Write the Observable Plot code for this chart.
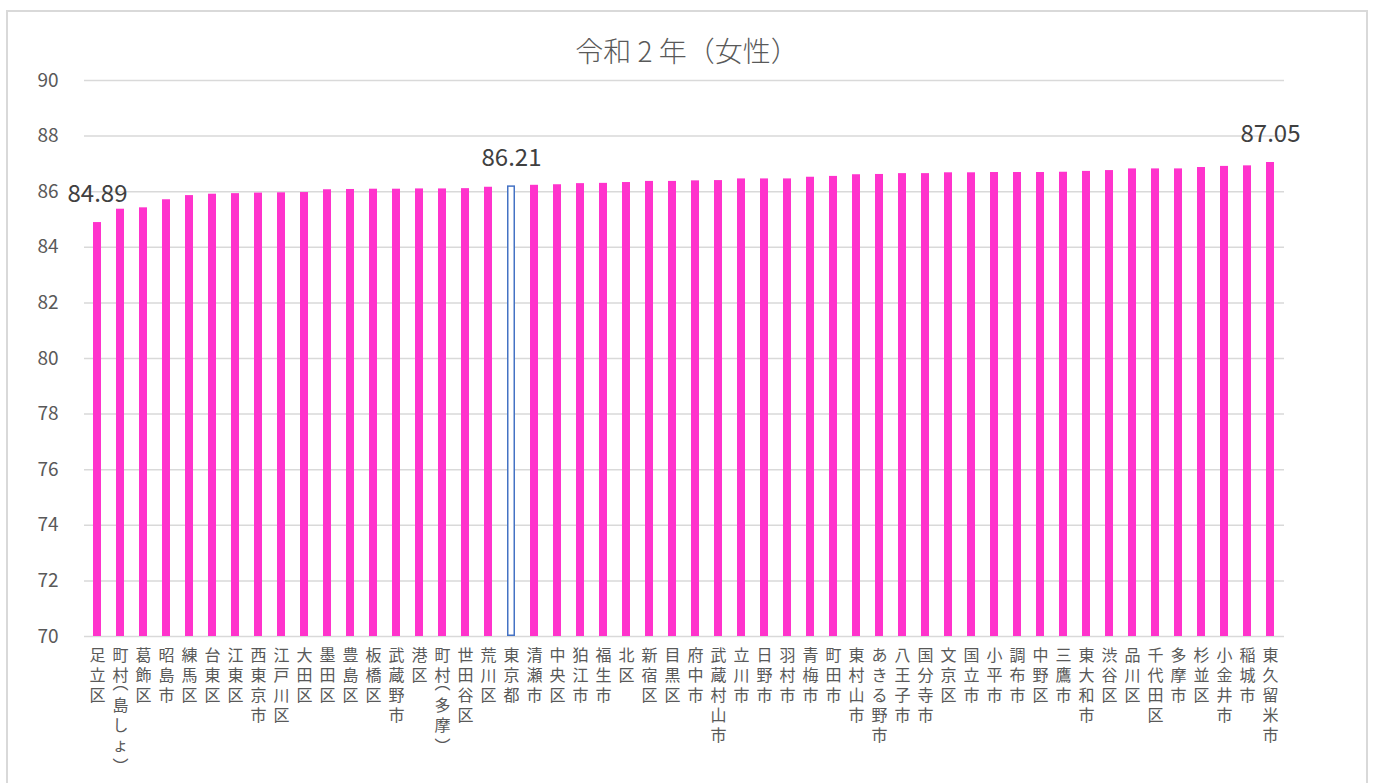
<!DOCTYPE html>
<html><head><meta charset="utf-8">
<script src="https://cdn.jsdelivr.net/npm/d3@7"></script>
<script src="https://cdn.jsdelivr.net/npm/@observablehq/plot@0.6"></script>
<style>
html,body{margin:0;padding:0;background:#fff;overflow:hidden;}
#wrap{position:relative;width:1374px;height:783px;}
#frame{position:absolute;left:6px;top:10px;width:1362px;height:800px;border:2px solid #d9d9d9;box-sizing:border-box;}
#title{position:absolute;left:0;width:1374px;top:31px;text-align:center;font-family:"Noto Sans CJK JP",sans-serif;font-size:28px;font-weight:300;color:#595959;line-height:38px;}
#chart{position:absolute;left:0;top:0;}
</style></head>
<body><div id="wrap"><div id="frame"></div><div id="title">令和 2 年（女性）</div><div id="chart"></div></div>
<script>
const categories = ["足立区","町村（島しょ）","葛飾区","昭島市","練馬区","台東区","江東区","西東京市","江戸川区","大田区","墨田区","豊島区","板橋区","武蔵野市","港区","町村（多摩）","世田谷区","荒川区","東京都","清瀬市","中央区","狛江市","福生市","北区","新宿区","目黒区","府中市","武蔵村山市","立川市","日野市","羽村市","青梅市","町田市","東村山市","あきる野市","八王子市","国分寺市","文京区","国立市","小平市","調布市","中野区","三鷹市","東大和市","渋谷区","品川区","千代田区","多摩市","杉並区","小金井市","稲城市","東久留米市"];
const values = [84.89,85.37,85.42,85.71,85.86,85.91,85.93,85.95,85.96,85.97,86.07,86.08,86.09,86.09,86.10,86.10,86.11,86.16,86.21,86.23,86.25,86.29,86.30,86.33,86.37,86.37,86.39,86.40,86.46,86.46,86.46,86.52,86.55,86.61,86.62,86.65,86.65,86.68,86.68,86.69,86.69,86.69,86.70,86.73,86.76,86.82,86.82,86.82,86.87,86.91,86.93,87.05];
const highlightCategory = "東京都";
const labeledCategories = ["足立区","東京都","東久留米市"];
const yTicks = [70,72,74,76,78,80,82,84,86,88,90];

const data = categories.map((c,i)=>({name:c, value:values[i]}));
const base = yTicks[0];
const normal = data.filter(d=>d.name!==highlightCategory);
const hi = data.filter(d=>d.name===highlightCategory);
const labeled = data.filter(d=>labeledCategories.includes(d.name));
const OPEN = "︵", CLOSE = "︶";
const vert = s => [...s.replace(/（/g,OPEN).replace(/）/g,CLOSE)].join("\n");
const LH = 1.25;

const font = '"Noto Sans CJK JP", sans-serif';
const chart = Plot.plot({
  width:1374, height:783,
  marginLeft:84, marginRight:90, marginTop:80, marginBottom:147,
  style:{fontFamily:font, background:"transparent", overflow:"visible"},
  x:{domain:categories, paddingInner:0.65, paddingOuter:0.325, label:null},
  y:{domain:[yTicks[0], yTicks[yTicks.length-1]], label:null},
  marks:[
    Plot.gridY(yTicks, {stroke:"#d9d9d9", strokeOpacity:1, strokeWidth:1.5}),
    Plot.axisY(yTicks, {tickSize:0, tickPadding:26, fontSize:19, fill:"#595959", label:null, tickFormat:d=>String(d)}),
    Plot.axisX({tickSize:0, tickPadding:10, fontSize:16, lineHeight:LH, fill:"#595959", label:null, tickFormat:vert, textAnchor:"middle", lineAnchor:"top"}),
    Plot.barY(normal, {x:"name", y1:base, y2:"value", fill:"#ff33cc"}),
    Plot.barY(hi, {x:"name", y1:base, y2:"value", fill:"#ffffff", stroke:"#4472c4", strokeWidth:1.5, inset:0.75}),
    Plot.text(labeled, {x:"name", y:"value", text:d=>d.value.toFixed(2), dy:-28, lineAnchor:"middle", fontSize:24, fill:"#404040"})
  ]
});
// parentheses in vertical labels occupy only half a line, as in the reference
chart.querySelectorAll('[aria-label="x-axis tick label"] text').forEach(t => {
  const spans = [...t.querySelectorAll("tspan")];
  spans.forEach((sp, i) => {
    if (i === 0) return;
    if (sp.textContent === OPEN) {
      sp.setAttribute("dy", `${LH*0.4}em`);
      if (spans[i+1]) spans[i+1].setAttribute("dy", `${LH*1.1}em`);
    } else if (sp.textContent === CLOSE) {
      sp.setAttribute("dy", `${LH*1.05}em`);
    }
  });
});
document.getElementById("chart").appendChild(chart);
</script></body></html>
